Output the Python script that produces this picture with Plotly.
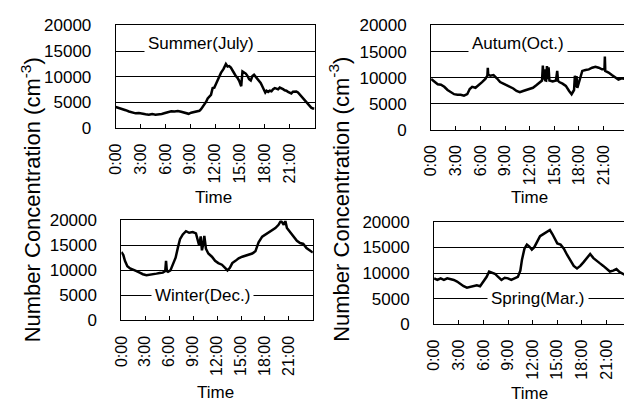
import plotly.graph_objects as go

# ---- data (hours of day, number concentration cm^-3) ----
summer_t = [0, 0.4, 0.8, 1.2, 1.6, 2.0, 2.4, 2.8, 3.2, 3.6, 4.0, 4.4, 4.8, 5.2, 5.55, 5.95, 6.35, 6.7, 7.1, 7.5, 7.9, 8.2, 8.5, 8.8, 9.1, 9.4, 9.7, 10.1, 10.3, 10.5, 10.7, 10.9, 11.1, 11.3, 11.5, 11.7, 11.9, 12.1, 12.4, 12.7, 13.0, 13.3, 13.5, 13.7, 13.9, 14.1, 14.3, 14.5, 14.7, 14.9, 15.15, 15.3, 15.5, 15.7, 15.9, 16.1, 16.3, 16.5, 16.7, 16.9, 17.1, 17.3, 17.5, 17.65, 17.85, 18.05, 18.2, 18.4, 18.6, 18.8, 19.0, 19.2, 19.4, 19.6, 19.8, 20.0, 20.2, 20.4, 20.6, 20.8, 21.0, 21.2, 21.4, 21.6, 21.8, 22.0, 22.2, 22.4, 22.6, 22.8, 23.0, 23.2, 23.4, 23.6, 23.8, 24.0]
summer_v = [4120, 3950, 3690, 3500, 3260, 3050, 2890, 2950, 2770, 2700, 2640, 2750, 2640, 2680, 2770, 2950, 3140, 3300, 3260, 3350, 3200, 3100, 2890, 2800, 3010, 3150, 3260, 3380, 3700, 4120, 4600, 5100, 5800, 6150, 6500, 7810, 7900, 8610, 9840, 10760, 11500, 12480, 12000, 12100, 11800, 11070, 10700, 10150, 9800, 9230, 8180, 11070, 10900, 10640, 10200, 9530, 9300, 10150, 10400, 10020, 9700, 9230, 8800, 8300, 7600, 6950, 7300, 7070, 7300, 7200, 7600, 7810, 7700, 7560, 7900, 7810, 7600, 7380, 7300, 7070, 6900, 6770, 7100, 7200, 7150, 6950, 6600, 6150, 5800, 5350, 5000, 4740, 4400, 3990, 3850, 3810]

autumn_t = [0, 0.4, 0.8, 1.2, 1.6, 2.0, 2.4, 2.8, 3.2, 3.6, 4.0, 4.4, 4.7, 5.0, 5.4, 5.8, 6.2, 6.6, 6.85, 6.9, 6.95, 7.2, 7.6, 8.0, 8.4, 8.8, 9.2, 9.6, 10.0, 10.4, 10.8, 11.2, 11.6, 12.0, 12.4, 12.8, 13.2, 13.5, 13.6, 13.7, 13.8, 13.9, 14.0, 14.1, 14.2, 14.3, 14.4, 14.8, 15.2, 15.35, 15.45, 15.6, 16.0, 16.4, 16.8, 17.1, 17.4, 17.5, 17.6, 17.7, 17.8, 18.1, 18.4, 18.8, 19.2, 19.6, 20.0, 20.4, 20.8, 21.1, 21.15, 21.2, 21.6, 22.0, 22.4, 22.8, 23.2, 23.6]
autumn_v = [9760, 9150, 8720, 8660, 8240, 7630, 7200, 6830, 6710, 6710, 6530, 6830, 7810, 8240, 8050, 8540, 9150, 9760, 10400, 11900, 10600, 10370, 10490, 9880, 9150, 8850, 8540, 8240, 7930, 7440, 7200, 7440, 7630, 7930, 8050, 8540, 9150, 9450, 12300, 9600, 11590, 9500, 9450, 12200, 9700, 12000, 9450, 9270, 9450, 11300, 9400, 9150, 8850, 8420, 7440, 6830, 7630, 10370, 8200, 10300, 8050, 9760, 11290, 11470, 11590, 11900, 12080, 11900, 11590, 11600, 14030, 11290, 10980, 10490, 10070, 9640, 9880, 9760]

winter_t = [0, 0.25, 0.45, 0.75, 1.1, 1.5, 1.9, 2.3, 2.7, 3.15, 3.55, 4.0, 4.4, 4.8, 5.2, 5.5, 5.6, 5.7, 5.85, 6.15, 6.45, 6.8, 7.1, 7.35, 7.7, 8.1, 8.5, 8.95, 9.35, 9.55, 9.75, 9.95, 10.1, 10.3, 10.4, 10.6, 10.9, 11.35, 11.75, 12.15, 12.6, 13.0, 13.3, 13.6, 13.9, 14.3, 14.7, 15.15, 15.55, 15.95, 16.4, 16.8, 17.2, 17.65, 18.05, 18.45, 18.9, 19.3, 19.7, 20.0, 20.35, 20.55, 20.75, 21.2, 21.6, 22.0, 22.4, 22.8, 23.2, 23.7, 24.0]
winter_v = [13700, 13060, 11910, 10830, 10380, 10190, 9870, 9560, 9240, 9050, 9110, 9240, 9360, 9490, 9560, 9870, 11910, 9900, 9750, 10000, 11150, 12550, 14650, 16240, 17200, 17840, 17520, 17650, 17390, 15930, 14970, 16800, 14010, 15500, 16880, 14330, 13380, 12740, 11910, 11470, 11150, 10510, 10000, 10510, 11470, 11910, 12420, 12740, 12930, 13190, 13380, 13820, 15610, 16750, 17200, 17520, 18030, 18470, 19110, 19940, 19110, 19900, 18470, 17520, 16750, 15930, 15480, 15290, 14460, 14010, 13570]

spring_t = [0, 0.4, 0.8, 1.2, 1.6, 2.0, 2.4, 2.8, 3.2, 3.6, 4.0, 4.4, 4.8, 5.2, 5.6, 6.0, 6.4, 6.7, 7.0, 7.4, 7.8, 8.2, 8.6, 9.0, 9.4, 9.8, 10.2, 10.5, 10.7, 11.0, 11.3, 11.6, 11.9, 12.2, 12.55, 12.9, 13.2, 13.5, 13.8, 14.1, 14.4, 14.7, 15.0, 15.4, 15.8, 16.2, 16.6, 17.0, 17.4, 17.8, 18.2, 18.6, 19.0, 19.4, 19.8, 20.2, 20.6, 21.0, 21.4, 21.8, 22.2, 22.6, 23.0, 23.2]
spring_v = [8970, 8660, 8970, 8660, 8970, 8850, 8660, 8360, 7870, 7440, 7140, 7260, 7440, 7630, 7440, 8240, 9270, 10310, 10070, 9880, 9270, 8660, 9090, 8970, 8660, 8970, 9270, 10490, 12630, 14760, 15560, 15190, 14580, 15070, 16290, 17200, 17510, 17810, 18120, 18420, 17630, 16780, 15800, 15560, 14760, 13540, 12320, 11410, 10920, 11410, 12140, 12930, 13730, 12930, 12320, 11900, 11410, 10800, 10310, 10490, 10800, 10190, 9880, 9700]

y_ticks = [0, 5000, 10000, 15000, 20000]
y_ticktext = ["0", "5000", "10000", "15000", "20000"]
x_tickvals = [0, 3, 6, 9, 12, 15, 18, 21]
x_ticktext = ["0:00", "3:00", "6:00", "9:00", "12:00", "15:00", "18:00", "21:00"]

season_labels = ["Summer(July)", "Autum(Oct.)", "Winter(Dec.)", "Spring(Mar.)"]
series = [(summer_t, summer_v), (autumn_t, autumn_v), (winter_t, winter_v), (spring_t, spring_v)]

W, H = 624, 408
FONT = "Liberation Sans, Arial, sans-serif"

# panel geometry in pixels: (left, right, top, bottom, xmax)
panels = [
    (108.3, 310.0, 17.3, 125.0, 24.0),
    (428.3, 624.0, 17.3, 126.7, 23.48),
    (114.0, 308.3, 221.7, 326.7, 24.0),
    (431.3, 624.0, 223.3, 330.7, 23.12),
]

fig = go.Figure()
layout = dict(
    width=W, height=H, margin=dict(l=0, r=0, t=0, b=0),
    paper_bgcolor="white", plot_bgcolor="white", showlegend=False,
    font=dict(family=FONT, size=17, color="black"),
)

for i, ((t, v), (l, r, tp, bt, xmax)) in enumerate(zip(series, panels)):
    n = "" if i == 0 else str(i + 1)
    fig.add_trace(go.Scatter(x=t, y=v, mode="lines", line=dict(color="black", width=2.5),
                             xaxis="x" + n, yaxis="y" + n, hoverinfo="skip"))
    right_col = i in (1, 3)
    layout["xaxis" + n] = dict(
        domain=[l / W, r / W], range=[0, xmax], anchor="y" + n,
        tickmode="array", tickvals=x_tickvals, ticktext=x_ticktext, tickangle=-90,
        ticks="inside", ticklen=4, tickcolor="black", tickwidth=1,
        showline=True, linecolor="black", linewidth=1, mirror=True,
        showgrid=False, zeroline=False, tickfont=dict(size=16), ticklabelstandoff=8,
    )
    layout["yaxis" + n] = dict(
        domain=[1 - bt / H, 1 - tp / H], range=[0, 20000], anchor="x" + n,
        tickmode="array", tickvals=y_ticks, ticktext=y_ticktext, ticks="",
        showline=True, linecolor="black", linewidth=1, mirror=not right_col,
        showgrid=True, gridcolor="black", gridwidth=1, zeroline=False,
        tickfont=dict(size=17), ticklabelstandoff=20,
    )

annotations = []
# season labels (text centre px x, y)
label_pos = [(195, 36), (516, 36), (196, 301), (537, 304)]
for txt, (px, py) in zip(season_labels, label_pos):
    annotations.append(dict(text=txt, x=px / W, y=1 - py / H, xref="paper", yref="paper",
                            xanchor="center", yanchor="middle", showarrow=False,
                            bgcolor="white", borderpad=3, font=dict(size=17)))
# Time titles
for px, py in [(207, 198), (528, 198), (210, 402), (528, 403)]:
    annotations.append(dict(text="Time", x=px / W, y=1 - py / H, xref="paper", yref="paper",
                            xanchor="center", yanchor="middle", showarrow=False,
                            font=dict(size=17)))
# y titles
for px in (22, 335):
    annotations.append(dict(text="Number Concentration (cm<sup>-3</sup>)", x=px / W, y=1 - 200 / H,
                            xref="paper", yref="paper", xanchor="center", yanchor="middle",
                            textangle=-90, showarrow=False, font=dict(size=22)))
layout["annotations"] = annotations
fig.update_layout(**layout)
fig.write_html("out.html")
